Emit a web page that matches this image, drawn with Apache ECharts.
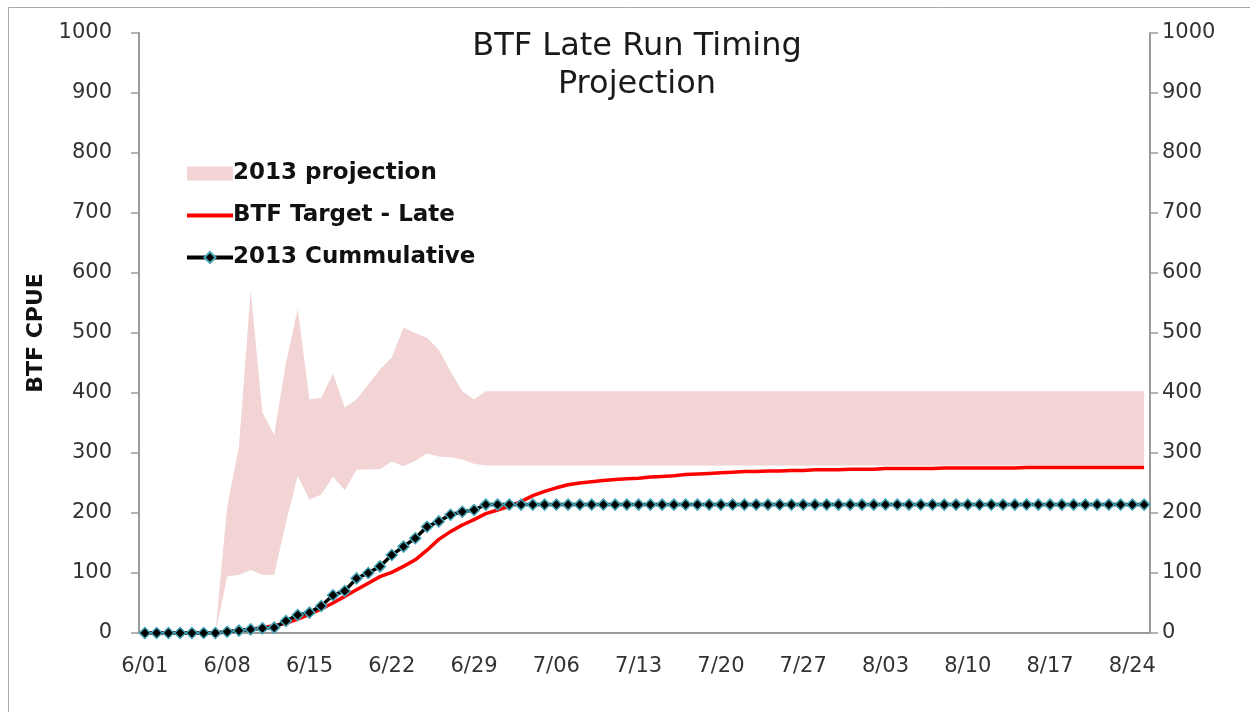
<!DOCTYPE html>
<html>
<head>
<meta charset="utf-8">
<title>BTF Late Run Timing Projection</title>
<script src="https://cdn.jsdelivr.net/npm/echarts@6/dist/echarts.min.js"></script>
<style>
  html, body { margin: 0; padding: 0; background: #fff; }
  #chart { width: 1250px; height: 712px; }
</style>
</head>
<body>
<div id="chart"></div>
<script>
// daily dates, 6/01 .. 8/25
const dates = [
  '6/01','6/02','6/03','6/04','6/05','6/06','6/07','6/08','6/09','6/10',
  '6/11','6/12','6/13','6/14','6/15','6/16','6/17','6/18','6/19','6/20',
  '6/21','6/22','6/23','6/24','6/25','6/26','6/27','6/28','6/29','6/30',
  '7/01','7/02','7/03','7/04','7/05','7/06','7/07','7/08','7/09','7/10',
  '7/11','7/12','7/13','7/14','7/15','7/16','7/17','7/18','7/19','7/20',
  '7/21','7/22','7/23','7/24','7/25','7/26','7/27','7/28','7/29','7/30',
  '7/31','8/01','8/02','8/03','8/04','8/05','8/06','8/07','8/08','8/09',
  '8/10','8/11','8/12','8/13','8/14','8/15','8/16','8/17','8/18','8/19',
  '8/20','8/21','8/22','8/23','8/24','8/25'
]

// 2013 projection band, lower and upper edge
const projectionLow = [
  0, 0, 0, 0, 0, 0, 0, 94, 97, 105,
  97, 97, 184, 262, 222, 231, 261, 238, 272, 273,
  273, 286, 278, 287, 299, 294, 293, 289, 282, 279,
  279, 279, 279, 279, 279, 279, 279, 279, 279, 279,
  279, 279, 279, 279, 279, 279, 279, 279, 279, 279,
  279, 279, 279, 279, 279, 279, 279, 279, 279, 279,
  279, 279, 279, 279, 279, 279, 279, 279, 279, 279,
  279, 279, 279, 279, 279, 279, 279, 279, 279, 279,
  279, 279, 279, 279, 279, 279
]
const projectionHigh = [
  0, 0, 0, 0, 0, 0, 0, 210, 310, 570,
  367, 330, 450, 540, 389, 392, 432, 376, 389, 414,
  439, 459, 509, 500, 492, 472, 436, 403, 389, 403,
  403, 403, 403, 403, 403, 403, 403, 403, 403, 403,
  403, 403, 403, 403, 403, 403, 403, 403, 403, 403,
  403, 403, 403, 403, 403, 403, 403, 403, 403, 403,
  403, 403, 403, 403, 403, 403, 403, 403, 403, 403,
  403, 403, 403, 403, 403, 403, 403, 403, 403, 403,
  403, 403, 403, 403, 403, 403
]

// BTF Target - Late
const targetLate = [
  0, 0, 0, 0, 0, 0, 0, 2, 4, 6,
  9, 12, 16, 23, 31, 40, 50, 61, 72, 83,
  94, 101, 111, 122, 138, 156, 169, 180, 189, 199,
  205, 211, 219, 229, 236, 242, 247, 250, 252, 254,
  256, 257, 258, 260, 261, 262, 264, 265, 266, 267,
  268, 269, 269, 270, 270, 271, 271, 272, 272, 272,
  273, 273, 273, 274, 274, 274, 274, 274, 275, 275,
  275, 275, 275, 275, 275, 276, 276, 276, 276, 276,
  276, 276, 276, 276, 276, 276
]

// 2013 Cummulative
const cumulative2013 = [
  0, 0, 0, 0, 0, 0, 0, 2, 4, 6,
  8, 9, 20, 30, 34, 45, 63, 70, 91, 100,
  111, 130, 144, 158, 177, 186, 197, 202, 205, 214,
  214, 214, 214, 214, 214, 214, 214, 214, 214, 214,
  214, 214, 214, 214, 214, 214, 214, 214, 214, 214,
  214, 214, 214, 214, 214, 214, 214, 214, 214, 214,
  214, 214, 214, 214, 214, 214, 214, 214, 214, 214,
  214, 214, 214, 214, 214, 214, 214, 214, 214, 214,
  214, 214, 214, 214, 214, 214
]

const font = 'DejaVu Sans, Verdana, sans-serif'
const axisGray = '#9a9a9a'
const bandColor = '#f1d4d3'

// stacked band needs the height above the lower edge
const bandHeight = projectionHigh.map((v, i) => v - projectionLow[i])

function valueAxis(position, margin) {
  return {
    type: 'value',
    position: position,
    min: 0,
    max: 1000,
    interval: 100,
    axisLine: { show: true, lineStyle: { color: axisGray, width: 2 } },
    axisTick: { show: true, length: 8, lineStyle: { color: axisGray, width: 1.5 } },
    axisLabel: {
      fontFamily: font, fontSize: 21, color: '#333', margin: margin,
      formatter: v => String(v)
    },
    splitLine: { show: false }
  }
}

const leftAxis = valueAxis('left', 27)
leftAxis.name = 'BTF CPUE'
leftAxis.nameLocation = 'middle'
leftAxis.nameGap = 92
leftAxis.nameTextStyle = { fontFamily: font, fontSize: 22, fontWeight: 'bold', color: '#111' }

const chart = echarts.init(document.getElementById('chart'))
chart.setOption({
  animation: false,
  backgroundColor: '#fff',
  graphic: [{
    type: 'rect',
    shape: { x: 8.5, y: 7.5, width: 1400, height: 900 },
    style: { fill: 'none', stroke: '#a8a8a8', lineWidth: 1 },
    silent: true
  }],
  title: {
    text: 'BTF Late Run Timing\nProjection',
    left: 632,
    top: 23,
    textAlign: 'center',
    textStyle: { fontFamily: font, fontSize: 32, fontWeight: 'normal', color: '#1a1a1a', lineHeight: 38 }
  },
  legend: {
    orient: 'vertical',
    left: 180,
    top: 157,
    itemWidth: 46,
    itemHeight: 14,
    itemGap: 19,
    textStyle: { fontFamily: font, fontSize: 23, fontWeight: 'bold', color: '#111', padding: [0, 0, 0, -5] },
    data: [
      { name: '2013 projection', icon: 'rect' },
      { name: 'BTF Target - Late', itemStyle: { opacity: 0 }, lineStyle: { width: 4 } },
      { name: '2013 Cummulative', lineStyle: { width: 4 } }
    ]
  },
  grid: { left: 139, right: 100, top: 33, bottom: 79 },
  xAxis: {
    type: 'category',
    data: dates,
    boundaryGap: true,
    axisLine: { lineStyle: { color: axisGray, width: 2 } },
    axisTick: { interval: 6, length: 9, lineStyle: { color: axisGray, width: 1.5 } },
    axisLabel: { interval: 6, fontFamily: font, fontSize: 21, color: '#333', margin: 23 }
  },
  yAxis: [leftAxis, valueAxis('right', 12)],
  series: [
    {
      name: 'projection low',
      type: 'line',
      stack: 'band',
      data: projectionLow,
      symbol: 'none',
      lineStyle: { width: 0, opacity: 0 },
      silent: true
    },
    {
      name: '2013 projection',
      type: 'line',
      stack: 'band',
      data: bandHeight,
      symbol: 'none',
      itemStyle: { color: bandColor },
      lineStyle: { width: 0, color: bandColor },
      areaStyle: { color: bandColor, opacity: 1 }
    },
    {
      name: 'BTF Target - Late',
      type: 'line',
      data: targetLate,
      symbol: 'none',
      itemStyle: { color: '#ff0000' },
      lineStyle: { color: '#ff0000', width: 3.5 },
      z: 3
    },
    {
      name: '2013 Cummulative',
      type: 'line',
      data: cumulative2013,
      symbol: 'diamond',
      symbolSize: 11,
      showAllSymbol: true,
      itemStyle: { color: '#000', borderColor: '#46a6b8', borderWidth: 1.5 },
      lineStyle: { color: '#000', width: 3.5 },
      z: 4
    }
  ]
})
</script>
</body>
</html>
